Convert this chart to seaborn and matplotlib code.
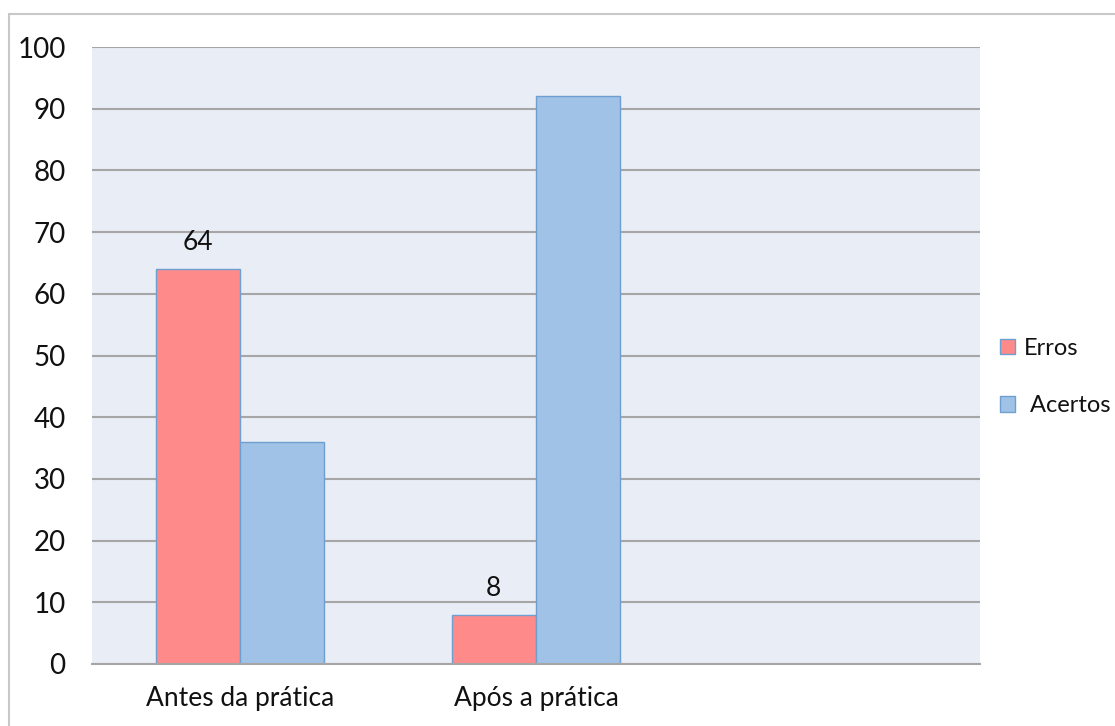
import matplotlib
matplotlib.use('Agg')
import matplotlib.pyplot as plt
import pandas as pd
import seaborn as sns
from matplotlib.patches import Rectangle

categories = ["Antes da prática", "Após a prática", ""]
series = ["Erros", "Acertos"]
erros = [64, 8]
acertos = [36, 92]
labels_erros = ["64", "8"]

COLOR_ERROS = "#FF8A8A"
COLOR_ACERTOS = "#9FC2E6"
TEXT = "#111111"

df = pd.DataFrame({
    "categoria": categories[:2] * 2,
    "serie": ["Erros"] * 2 + ["Acertos"] * 2,
    "valor": erros + acertos,
})

sns.set_style("white")
plt.rcParams['font.family'] = ['Lato', 'DejaVu Sans']
plt.rcParams['text.color'] = TEXT
plt.rcParams['xtick.color'] = TEXT
plt.rcParams['ytick.color'] = TEXT

fig = plt.figure(figsize=(11.15, 7.26), dpi=100)
ax = fig.add_axes([0.0825, 0.0854, 0.7965, 0.8498])

sns.barplot(data=df, x="categoria", y="valor", hue="serie", order=categories,
            hue_order=series, palette=[COLOR_ERROS, COLOR_ACERTOS],
            width=0.57, gap=0, ax=ax, linewidth=1.0, edgecolor="#6E9FD0",
            saturation=1)

ax.set_facecolor("#E9EDF6")
ax.set_xlim(-0.5, 2.5)
ax.set_ylim(0, 100)
ax.set_yticks(range(0, 101, 10))
ax.yaxis.grid(True, color="#A6A6A6", linewidth=1.5)
ax.set_axisbelow(True)
for s in ["top", "right", "left"]:
    ax.spines[s].set_visible(False)
ax.spines["bottom"].set_color("#A6A6A6")
ax.spines["bottom"].set_linewidth(1.5)

ax.set_xticks([0, 1, 2])
ax.set_xticklabels(categories, fontsize=19)
ax.tick_params(axis='x', length=0, pad=16, labelcolor=TEXT)
ax.tick_params(axis='y', length=7, width=1.5, color="#A6A6A6", labelsize=20, pad=12,
               labelcolor=TEXT)
# category boundary ticks
ax.set_xticks([-0.5, 0.5, 1.5, 2.5], minor=True)
ax.tick_params(axis='x', which='minor', length=8, width=1.2, color="#A6A6A6", direction='out')
ax.set_xlabel("")
ax.set_ylabel("")

# data labels on Erros bars
erros_bars = ax.containers[0]
ax.bar_label(erros_bars, labels=labels_erros, padding=10, fontsize=19, color=TEXT)

leg = ax.legend(loc="center left", bbox_to_anchor=(0.998, 0.465), frameon=False, fontsize=17,
                handlelength=0.65, handleheight=0.65, handletextpad=0.4, labelspacing=1.55)
leg.get_texts()[1].set_text(" Acertos")

fig.patches.append(Rectangle((9 / 1115, -0.01), 1.1, 1 - 14 / 726 + 0.01,
                             transform=fig.transFigure, fill=False,
                             edgecolor="#C8C8C8", linewidth=1.5))

fig.savefig("out.png", dpi=100)
